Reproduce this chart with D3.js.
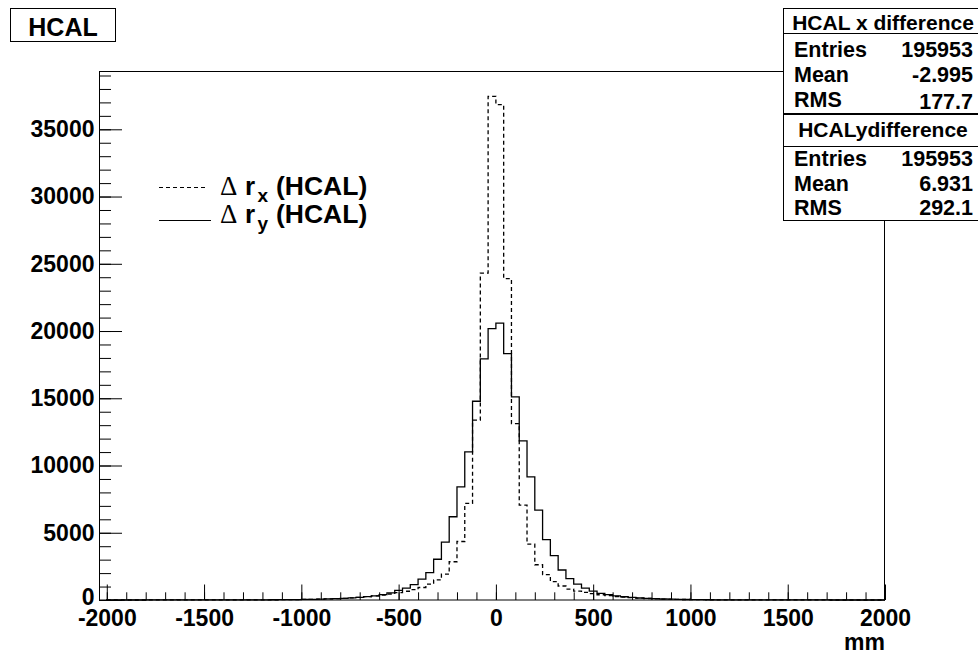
<!DOCTYPE html>
<html><head><meta charset="utf-8">
<script src="https://cdn.jsdelivr.net/npm/d3@7/dist/d3.min.js"></script>
<style>
body{margin:0;background:#fff}
svg text{font-family:"Liberation Sans",Arial,sans-serif;font-weight:bold;fill:#000}
</style>
</head><body>
<svg id="c" width="978" height="655"></svg>
<script>
// ---- data ----
const histLow = -2000, binWidth = 40;   // 100 bins, -2000 .. 2000 mm
const dxCounts = [
  1,1,1,1,1,2,2,2,2,3, 3,3,4,4,5,6,7,8,9,11,
  13,17,21,26,33,41,51,64,80,100,
  125,155,195,245,300,370,445,545,650,765,
  930,1175,1490,1920,2845,4350,7180,13370,24300,37450,
  36830,23890,13120,7050,4150,2620,1885,1360,1040,815,
  655,560,470,390,320,260,210,170,138,112,
  90,72,58,46,37,30,24,19,15,12,
  10,8,7,6,5,4,4,3,3,2, 2,2,2,1,1,1,1,1,1,1
];
const dyCounts = [
  1,1,1,1,1,2,2,2,2,3, 3,3,4,4,5,6,7,8,9,11,
  13,17,21,26,33,41,51,64,80,100,
  125,155,195,245,310,400,535,715,890,1140,
  1550,2040,3030,4300,6190,8415,11010,14780,17930,20180,
  20590,18320,15100,11830,9160,6680,4490,3300,2230,1585,
  1180,890,655,495,400,310,240,190,150,120,
  95,76,60,48,38,30,24,19,15,12,
  10,8,7,6,5,4,4,3,3,2, 2,2,2,1,1,1,1,1,1,1
];
const xMajorTicks = [-2000,-1500,-1000,-500,0,500,1000,1500,2000];
const yMajorTicks = [0,5000,10000,15000,20000,25000,30000,35000];
const statLabels = ["Entries","Mean","RMS"];
const statsXTitle = "HCAL x difference";
const statsXValues = ["195953","-2.995","177.7"];
const statsYTitle = "HCALydifference";
const statsYValues = ["195953","6.931","292.1"];
const histTitle = "HCAL";
const xAxisTitle = "mm";

// ---- drawing ----
const svg = d3.select("#c");
const x = d3.scaleLinear().domain([-2040, 2000]).range([99, 885]);
const y = d3.scaleLinear().domain([0, 39335]).range([600, 71]);

function stepPoints(counts){
  const pts = [[histLow, 0]];
  counts.forEach((v,i)=>{
    const lo = histLow + i*binWidth, hi = lo + binWidth;
    pts.push([lo, v]); pts.push([hi, v]);
  });
  pts.push([histLow + counts.length*binWidth, 0]);
  return pts;
}
const line = d3.line().x(d=>x(d[0])).y(d=>y(d[1]));

svg.append("path").attr("d", line(stepPoints(dyCounts)))
  .attr("fill","none").attr("stroke","#000").attr("stroke-width",1.3);
svg.append("path").attr("d", line(stepPoints(dxCounts)))
  .attr("fill","none").attr("stroke","#000").attr("stroke-width",1.3)
  .attr("stroke-dasharray","4,3");

// frame
svg.append("rect").attr("x",99.5).attr("y",71.5).attr("width",785).attr("height",528.5)
  .attr("fill","none").attr("stroke","#000").attr("stroke-width",1);

const axisFont = sel => sel.attr("font-size",23).attr("font-family",null)
  .style("font-family",'"Liberation Sans",Arial,sans-serif').style("font-weight","bold");

// x axis
const gx = svg.append("g").attr("transform","translate(0,600)");
gx.append("g").call(d3.axisBottom(x).tickValues(d3.range(-2000,2001,100)).tickSize(-7.7).tickSizeOuter(0).tickFormat(""));
gx.append("g").call(d3.axisBottom(x).tickValues(xMajorTicks).tickSize(-15.5).tickSizeOuter(0).tickPadding(9.5).tickFormat(d=>String(d)));
gx.selectAll(".domain").remove();
gx.selectAll("line").attr("stroke","#000");
axisFont(gx.selectAll("text"));

// y axis
const gy = svg.append("g").attr("transform","translate(99,0)");
gy.append("g").call(d3.axisLeft(y).tickValues(d3.range(0,39001,1000)).tickSize(-12).tickSizeOuter(0).tickFormat(""));
gy.append("g").call(d3.axisLeft(y).tickValues(yMajorTicks).tickSize(-23).tickSizeOuter(0).tickPadding(4.5).tickFormat(d=>String(d)));
gy.selectAll(".domain").remove();
gy.selectAll("line").attr("stroke","#000");
axisFont(gy.selectAll("text"));
// lift the "0" label slightly so it does not touch the x labels
gy.selectAll(".tick text").filter(d=>d===0).attr("dy","0.2em");

// axis title
svg.append("text").attr("x",885).attr("y",650).attr("text-anchor","end").attr("font-size",23).text(xAxisTitle);

// histogram title box
svg.append("rect").attr("x",10.5).attr("y",8.5).attr("width",105).attr("height",33)
  .attr("fill","#fff").attr("stroke","#000");
svg.append("text").attr("x",63).attr("y",36).attr("text-anchor","middle").attr("font-size",25).text(histTitle);

// stats boxes
function statsBox(top, bottom, sep, title, titleBase, values, rowBases, valueShift){
  svg.append("rect").attr("x",783.5).attr("y",top).attr("width",200).attr("height",bottom-top)
    .attr("fill","#fff").attr("stroke","#000");
  svg.append("line").attr("x1",783.5).attr("x2",985).attr("y1",sep).attr("y2",sep).attr("stroke","#000");
  svg.append("text").attr("x",883).attr("y",titleBase).attr("text-anchor","middle").attr("font-size",21).text(title);
  statLabels.forEach((lab,i)=>{
    svg.append("text").attr("x",794).attr("y",rowBases[i]).attr("font-size",21.5).text(lab);
    svg.append("text").attr("x",973).attr("y",rowBases[i]+(valueShift[i]||0)).attr("text-anchor","end").attr("font-size",21.5).text(values[i]);
  });
}
statsBox(8.5, 113.5, 33.5, statsXTitle, 30, statsXValues, [56.7,81.7,106.7], [0,0,2.5]);
statsBox(114.5, 220.5, 146.5, statsYTitle, 137, statsYValues, [165.7,190.5,215], [0,0,0]);

// legend
const leg = svg.append("g");
leg.append("line").attr("x1",159).attr("x2",206).attr("y1",187.5).attr("y2",187.5)
  .attr("stroke","#000").attr("stroke-dasharray","4,3");
leg.append("line").attr("x1",159).attr("x2",211).attr("y1",220.5).attr("y2",220.5).attr("stroke","#000");
function legendText(base, sub){
  leg.append("text").attr("x",220).attr("y",base).attr("font-size",27)
    .style("font-family",'"Liberation Serif","Times New Roman",serif').style("font-weight","normal").text("Δ");
  leg.append("text").attr("x",245).attr("y",base).attr("font-size",26).text("r");
  leg.append("text").attr("x",257.5).attr("y",base+7).attr("font-size",19).text(sub);
  leg.append("text").attr("x",276).attr("y",base).attr("font-size",26.5).text("(HCAL)");
}
legendText(195, "x");
legendText(222.5, "y");
</script>
</body></html>
